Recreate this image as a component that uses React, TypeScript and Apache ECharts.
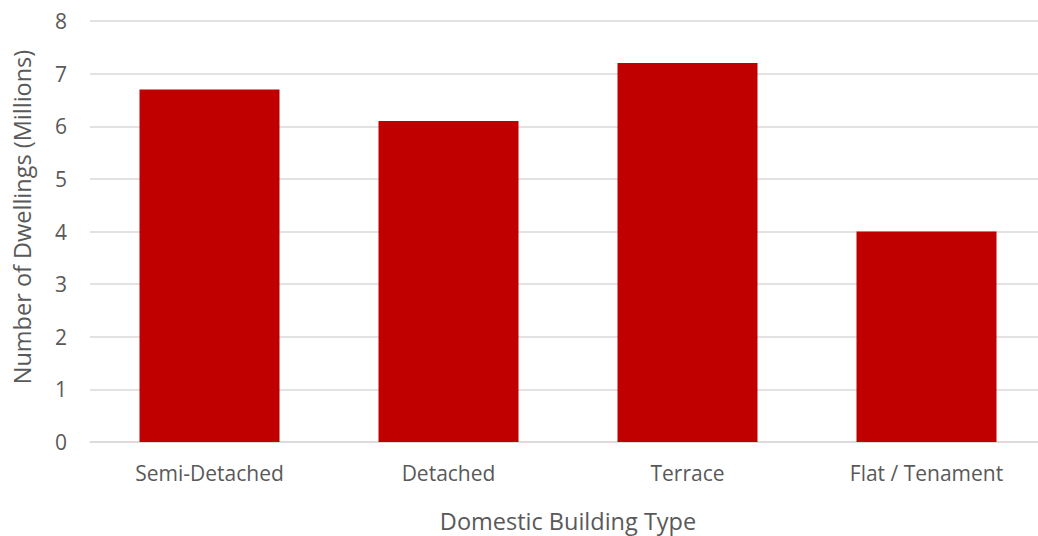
import React, { useEffect, useRef } from "react";
import * as echarts from "echarts";

const categories = ["Semi-Detached", "Detached", "Terrace", "Flat / Tenament"];
const dwellings = [6.7, 6.1, 7.2, 4.0];
const xAxisTitle = "Domestic Building Type";
const yAxisTitle = "Number of Dwellings (Millions)";

export default function App() {
  const ref = useRef<HTMLDivElement>(null);
  useEffect(() => {
    if (!ref.current) return;
    const chart = echarts.init(ref.current, null, { renderer: "svg" });
    const font = "'Open Sans', sans-serif";
    chart.setOption({
      animation: false,
      grid: { left: 90, right: 0, top: 21, bottom: 94, outerBoundsMode: "none", containLabel: false },
      xAxis: {
        type: "category",
        data: categories,
        name: xAxisTitle,
        nameLocation: "middle",
        nameGap: 67,
        nameTextStyle: { color: "#595959", fontSize: 23.5, fontFamily: font },
        axisLine: { lineStyle: { color: "#D9D9D9", width: 1.5 } },
        axisTick: { show: false },
        axisLabel: { color: "#595959", fontSize: 21, fontFamily: font, margin: 20 },
      },
      yAxis: {
        type: "value",
        min: 0,
        max: 8,
        interval: 1,
        axisLine: { show: false },
        axisTick: { show: false },
        axisLabel: { color: "#595959", fontSize: 21, fontFamily: font, margin: 23 },
        splitLine: { lineStyle: { color: "#D9D9D9", width: 1.5 } },
      },
      graphic: [
        {
          type: "text",
          x: 22,
          y: 217,
          rotation: Math.PI / 2,
          style: {
            text: yAxisTitle,
            fill: "#595959",
            fontSize: 23.5,
            fontFamily: font,
            align: "center",
            verticalAlign: "middle",
          },
        },
      ],
      series: [
        {
          type: "bar",
          data: dwellings,
          barWidth: 140,
          itemStyle: { color: "#C00000" },
        },
      ],
    });
    return () => chart.dispose();
  }, []);
  return (
    <div
      style={{
        position: "fixed",
        left: 0,
        top: 0,
        width: 1038,
        height: 536,
        overflow: "hidden",
        background: "#fff",
      }}
    >
      <div ref={ref} style={{ width: 1046, height: 536 }} />
    </div>
  );
}
